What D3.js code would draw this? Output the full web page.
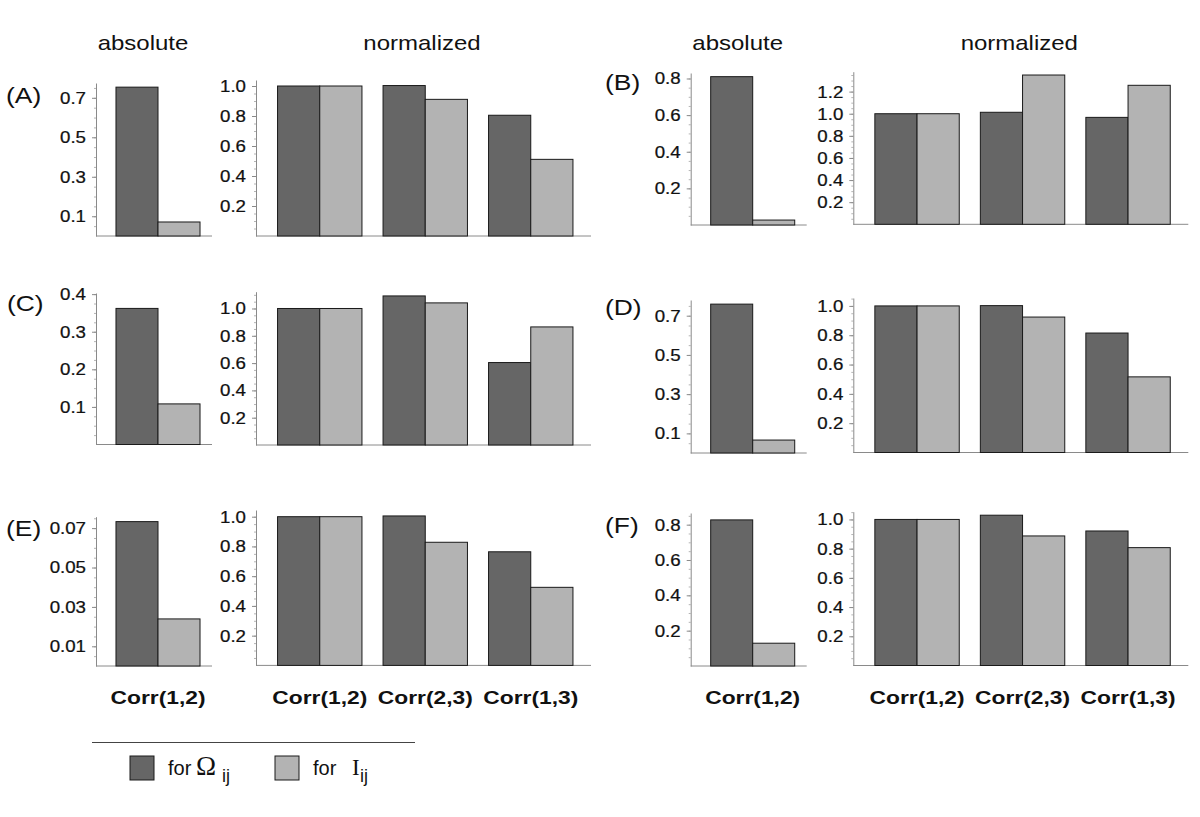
<!DOCTYPE html>
<meta charset="utf-8">
<script src="https://d3js.org/d3.v7.min.js"></script>
<style>
  body { margin: 0; background: #fff; }
  text { font-family: "Liberation Sans", Arial, sans-serif; fill: #111; }
</style>
<div id="chart"></div>
<script>
// values
var panels = ["A", "B", "C", "D", "E", "F"];
var absCategory = ["Corr(1,2)"];
var normCategories = ["Corr(1,2)", "Corr(2,3)", "Corr(1,3)"];
var seriesKeys = ["omega", "I"];

var absOmega = [0.754, 0.81, 0.362, 0.759, 0.0733, 0.827];
var absI     = [0.071, 0.027, 0.108, 0.066, 0.0239, 0.129];

var normOmega = [
  [1.0, 1.003, 0.805],
  [1.0, 1.013, 0.967],
  [1.0, 1.092, 0.604],
  [1.0, 1.002, 0.815],
  [1.0, 1.005, 0.764],
  [1.0, 1.029, 0.921]
];
var normI = [
  [1.0, 0.911, 0.511],
  [1.0, 1.35, 1.257],
  [1.0, 1.041, 0.865],
  [1.0, 0.924, 0.516],
  [1.0, 0.828, 0.525],
  [1.0, 0.887, 0.807]
];

// axis extents and tick labels
var absMax  = [0.775, 0.83, 0.403, 0.78, 0.0758, 0.866];
var normMax = [1.04, 1.38, 1.123, 1.054, 1.045, 1.053];
var absTicks = [
  [0.1, 0.3, 0.5, 0.7],
  [0.2, 0.4, 0.6, 0.8],
  [0.1, 0.2, 0.3, 0.4],
  [0.1, 0.3, 0.5, 0.7],
  [0.01, 0.03, 0.05, 0.07],
  [0.2, 0.4, 0.6, 0.8]
];
var normTicks = [
  [0.2, 0.4, 0.6, 0.8, 1.0],
  [0.2, 0.4, 0.6, 0.8, 1.0, 1.2],
  [0.2, 0.4, 0.6, 0.8, 1.0],
  [0.2, 0.4, 0.6, 0.8, 1.0],
  [0.2, 0.4, 0.6, 0.8, 1.0],
  [0.2, 0.4, 0.6, 0.8, 1.0]
];
var absFormat = [".1f", ".1f", ".1f", ".1f", ".2f", ".1f"];

// page layout
var width = 1200, height = 817;
var SX = 1.2; // the original text is a bit stretched sideways
var TSX = 1.1; // tick labels
var colAbsX  = [96, 690.7];
var colNormX = [256, 853.3];
var layout = [
  {col: 0, absBase: 236,   absTop: 83,    normBase: 236,   normTop: 80,    labelX: 6,   labelY: 103},
  {col: 1, absBase: 225,   absTop: 73,    normBase: 224.3, normTop: 71.7,  labelX: 605, labelY: 90},
  {col: 0, absBase: 444.5, absTop: 293,   normBase: 445,   normTop: 291.7, labelX: 7,   labelY: 311},
  {col: 1, absBase: 453,   absTop: 300,   normBase: 452.5, normTop: 298,   labelX: 605, labelY: 315},
  {col: 0, absBase: 666,   absTop: 516.7, normBase: 665.4, normTop: 510,   labelX: 6,   labelY: 536},
  {col: 1, absBase: 666,   absTop: 513,   normBase: 665.5, normTop: 511.7, labelX: 605, labelY: 533}
];

var color = d3.scaleOrdinal().domain(seriesKeys).range(["#666666", "#b3b3b3"]);
var axisColor = "#8a8a8a";

var svg = d3.select("#chart")
  .append("svg")
    .attr("width", width)
    .attr("height", height);

// stretched text helper
function stext(g, x, y, str, size, anchor, weight) {
  return g.append("text")
    .attr("transform", "translate(" + x + "," + y + ") scale(" + SX + ",1)")
    .attr("text-anchor", anchor || "start")
    .style("font-size", size + "px")
    .style("font-weight", weight || "normal")
    .text(str);
}

function drawAxis(g, x0, y, ticks, fmt, ymax) {
  var step = ticks[1] - ticks[0];
  var minor = d3.range(0, ymax, step / 4).filter(function(v) { return v > 0; });
  g.append("g")
    .attr("transform", "translate(" + x0 + ",0)")
    .call(d3.axisLeft(y).tickValues(minor).tickSize(2).tickSizeOuter(0).tickFormat(""))
    .call(function(a) {
      a.select(".domain").remove();
      a.selectAll(".tick line").attr("stroke", "#b5b5b5");
    });
  var ax = g.append("g")
    .attr("transform", "translate(" + x0 + ",0)")
    .call(d3.axisLeft(y).tickValues(ticks).tickSize(4).tickSizeOuter(0).tickPadding(6)
      .tickFormat(d3.format(fmt)))
    .attr("font-family", null)
    .attr("font-size", null);
  ax.select(".domain").attr("stroke", axisColor);
  ax.selectAll(".tick line").attr("stroke", axisColor);
  ax.selectAll(".tick text")
    .attr("x", -10 / TSX)
    .attr("transform", "scale(" + TSX + ",1)")
    .attr("stroke", "#111")
    .attr("stroke-width", 0.25)
    .style("font-size", "17px");
}

panels.forEach(function(p, i) {
  var L = layout[i];
  var g = svg.append("g");

  // ---- absolute panel ----
  var ax0 = colAbsX[L.col];
  var yA = d3.scaleLinear().domain([0, absMax[i]]).range([L.absBase, L.absTop]);
  var xA = d3.scaleBand().domain(absCategory).range([ax0 + 12, ax0 + 112]).paddingOuter(0.095);
  var xAs = d3.scaleBand().domain(seriesKeys).range([0, xA.bandwidth()]);

  g.append("line")
    .attr("x1", ax0).attr("x2", ax0 + 116)
    .attr("y1", L.absBase).attr("y2", L.absBase)
    .attr("stroke", axisColor);
  drawAxis(g, ax0, yA, absTicks[i], absFormat[i], absMax[i]);

  var absRows = [{key: "omega", v: absOmega[i]}, {key: "I", v: absI[i]}];
  g.selectAll(".absbar")
    .data(absRows)
    .enter().append("rect")
      .attr("x", function(d) { return xA(absCategory[0]) + xAs(d.key); })
      .attr("width", xAs.bandwidth())
      .attr("y", function(d) { return yA(d.v); })
      .attr("height", function(d) { return L.absBase - yA(d.v); })
      .attr("fill", function(d) { return color(d.key); })
      .attr("stroke", "#1a1a1a")
      .attr("stroke-width", 1);

  // ---- normalized panel ----
  var nx0 = colNormX[L.col];
  var yN = d3.scaleLinear().domain([0, normMax[i]]).range([L.normBase, L.normTop]);
  var xN = d3.scaleBand().domain(normCategories).range([nx0 + 11, nx0 + 327.5])
    .paddingInner(0.2).paddingOuter(0.1);
  var xNs = d3.scaleBand().domain(seriesKeys).range([0, xN.bandwidth()]);

  g.append("line")
    .attr("x1", nx0).attr("x2", nx0 + 335)
    .attr("y1", L.normBase).attr("y2", L.normBase)
    .attr("stroke", axisColor);
  drawAxis(g, nx0, yN, normTicks[i], ".1f", normMax[i]);

  var normRows = [];
  normCategories.forEach(function(c, j) {
    normRows.push({cat: c, key: "omega", v: normOmega[i][j]});
    normRows.push({cat: c, key: "I", v: normI[i][j]});
  });
  g.selectAll(".normbar")
    .data(normRows)
    .enter().append("rect")
      .attr("x", function(d) { return xN(d.cat) + xNs(d.key); })
      .attr("width", xNs.bandwidth())
      .attr("y", function(d) { return yN(d.v); })
      .attr("height", function(d) { return L.normBase - yN(d.v); })
      .attr("fill", function(d) { return color(d.key); })
      .attr("stroke", "#1a1a1a")
      .attr("stroke-width", 1);

  // panel letter
  stext(g, L.labelX, L.labelY, "(" + p + ")", 22, "start");

  // column headers above the top row, category labels below the bottom row
  if (i < 2) {
    stext(svg, ax0 + 47, 50, "absolute", 20, "middle");
    stext(svg, nx0 + 166, 50, "normalized", 20, "middle");
  }
  if (i >= 4) {
    stext(svg, xA(absCategory[0]) + xA.bandwidth() / 2, 704, absCategory[0], 19, "middle", "bold");
    normCategories.forEach(function(c) {
      stext(svg, xN(c) + xN.bandwidth() / 2, 704, c, 19, "middle", "bold");
    });
  }
});

// legend
var leg = svg.append("g");
leg.append("line")
  .attr("x1", 92).attr("x2", 415)
  .attr("y1", 742.5).attr("y2", 742.5)
  .attr("stroke", "#444").attr("stroke-width", 1.2);

var legendItems = [
  {key: "omega", x: 130, symbol: "\u03A9", symX: 66, subX: 92},
  {key: "I", x: 275, symbol: "I", symX: 77, subX: 85}
];
legendItems.forEach(function(d) {
  leg.append("rect")
    .attr("x", d.x).attr("y", 756)
    .attr("width", 24).attr("height", 24)
    .attr("fill", color(d.key))
    .attr("stroke", "#1a1a1a");
  leg.append("text")
    .attr("x", d.x + 38).attr("y", 775)
    .style("font-size", "20px")
    .text("for");
  leg.append("text")
    .attr("x", d.x + d.symX).attr("y", 775)
    .style("font-family", "'Liberation Serif', 'Times New Roman', serif")
    .style("font-size", d.key === "omega" ? "27px" : "23px")
    .text(d.symbol);
  leg.append("text")
    .attr("x", d.x + d.subX).attr("y", 782)
    .style("font-size", "18px")
    .text("ij");
});
</script>
